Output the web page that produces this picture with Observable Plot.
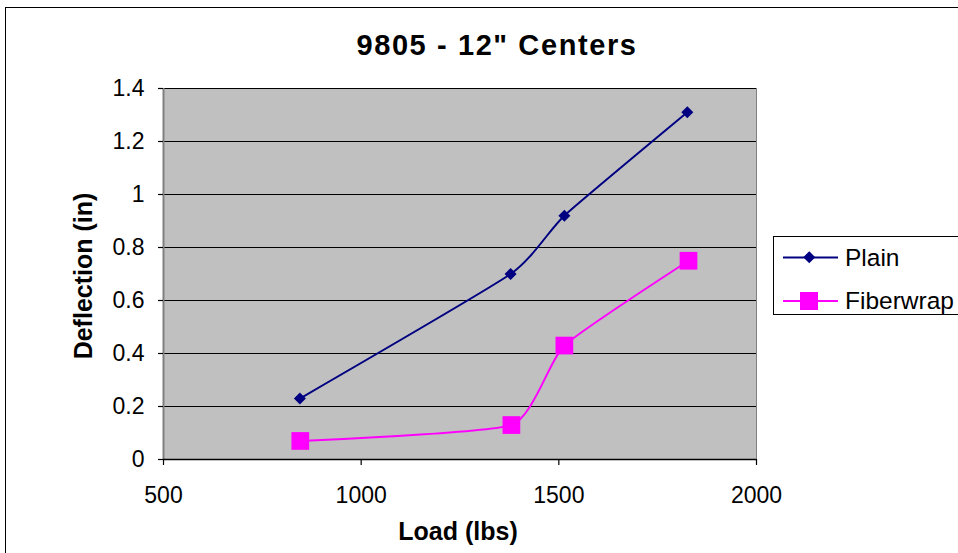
<!DOCTYPE html>
<html><head><meta charset="utf-8">
<script src="https://cdn.jsdelivr.net/npm/d3@7"></script>
<script src="https://cdn.jsdelivr.net/npm/@observablehq/plot@0.6"></script>
<style>
body{margin:0;background:#fff;font-family:"Liberation Sans",Arial,sans-serif}
#wrap{position:relative;width:958px;height:553px;overflow:hidden;background:#fff}
#border{position:absolute;left:5px;top:7px;width:1000px;height:600px;border:1.5px solid #000;box-sizing:border-box}
#title{position:absolute;left:0;width:994px;top:28px;text-align:center;font-weight:bold;font-size:29px;letter-spacing:1.6px;line-height:34px}
#chart{position:absolute;left:0;top:0}
#xlabel{position:absolute;left:358px;width:200px;top:516px;text-align:center;font-weight:bold;font-size:25px;line-height:30px}
#ylabel{position:absolute;left:-17px;top:261px;width:200px;text-align:center;font-weight:bold;font-size:25px;line-height:30px;transform:rotate(-90deg)}
#legend{position:absolute;left:773px;top:236px;width:200px;height:79px;border:1px solid #000;background:#fff;box-sizing:border-box}
.lrow{position:absolute;left:0;height:30px;font-size:24.5px;line-height:30px}
.lrow svg{position:absolute;left:9px;top:0}
.lrow span{position:absolute;left:71px;top:0;white-space:nowrap}
</style></head><body>
<div id="wrap">
  <div id="border"></div>
  <div id="chart"></div>
  <div id="title">9805 - 12" Centers</div>
  <div id="xlabel">Load (lbs)</div>
  <div id="ylabel">Deflection (in)</div>
  <div id="legend"></div>
</div>
<script>
// ---- data ----
const seriesNames = ["Plain", "Fiberwrap"];
const seriesColors = ["#000080", "#FF00FF"];
const plainLoad = [845, 1378, 1514, 1825];
const plainDefl = [0.23, 0.70, 0.92, 1.31];
const fiberLoad = [846, 1380, 1514, 1828];
const fiberDefl = [0.07, 0.13, 0.43, 0.75];
const xTicks = [500, 1000, 1500, 2000];
const yTicks = [0, 0.2, 0.4, 0.6, 0.8, 1, 1.2, 1.4];

const plainData = plainLoad.map((x, i) => ({series: seriesNames[0], load: x, defl: plainDefl[i]}));
const fiberData = fiberLoad.map((x, i) => ({series: seriesNames[1], load: x, defl: fiberDefl[i]}));

const chart = Plot.plot({
  width: 958, height: 553,
  marginLeft: 163, marginRight: 202, marginTop: 88, marginBottom: 94,
  x: {domain: [500, 2000], label: null},
  y: {domain: [0, 1.4], label: null},
  style: {fontFamily: '"Liberation Sans", Arial, sans-serif', fontSize: "23px", background: "transparent", color: "#000"},
  marks: [
    Plot.frame({fill: "#C0C0C0", stroke: "#808080", strokeWidth: 1}),
    Plot.gridY(yTicks, {stroke: "#000", strokeOpacity: 1, strokeWidth: 1.2}),
    Plot.ruleX([500], {stroke: "#808080", strokeWidth: 2}),
    Plot.ruleY([0], {stroke: "#000", strokeWidth: 1.5}),
    Plot.axisX({ticks: xTicks, tickSize: 6, tickPadding: 21, tickFormat: d => String(d), stroke: "#000", strokeWidth: 1.2}),
    Plot.axisY({ticks: yTicks, tickSize: 5, tickPadding: 14, tickFormat: d => String(d), stroke: "#000", strokeWidth: 1.2}),
    Plot.line(plainData, {x: "load", y: "defl", stroke: seriesColors[0], strokeWidth: 2, curve: "cardinal", tension: 0.5}),
    Plot.line(fiberData, {x: "load", y: "defl", stroke: seriesColors[1], strokeWidth: 2, curve: "cardinal", tension: 0.5}),
    Plot.dot(plainData, {x: "load", y: "defl", symbol: "square", rotate: 45, r: 4.8, fill: seriesColors[0], stroke: null}),
    Plot.dot(fiberData, {x: "load", y: "defl", symbol: "square", r: 10, fill: seriesColors[1], stroke: null})
  ]
});
document.getElementById("chart").appendChild(chart);

// legend
const legend = document.getElementById("legend");
const rowTops = [6, 49];
seriesNames.forEach((name, i) => {
  const row = document.createElement("div");
  row.className = "lrow";
  row.style.top = rowTops[i] + "px";
  const marker = i === 0
    ? `<rect x="22" y="10" width="8.5" height="8.5" fill="${seriesColors[0]}" transform="rotate(45 26.25 14.25)"/>`
    : `<rect x="17" y="6" width="18" height="18" fill="${seriesColors[1]}"/>`;
  row.innerHTML = `<svg width="60" height="30"><line x1="0" x2="55" y1="${i===0?14.5:15}" y2="${i===0?14.5:15}" stroke="${seriesColors[i]}" stroke-width="2"/>${marker}</svg><span>${name}</span>`;
  legend.appendChild(row);
});
</script>
</body></html>
